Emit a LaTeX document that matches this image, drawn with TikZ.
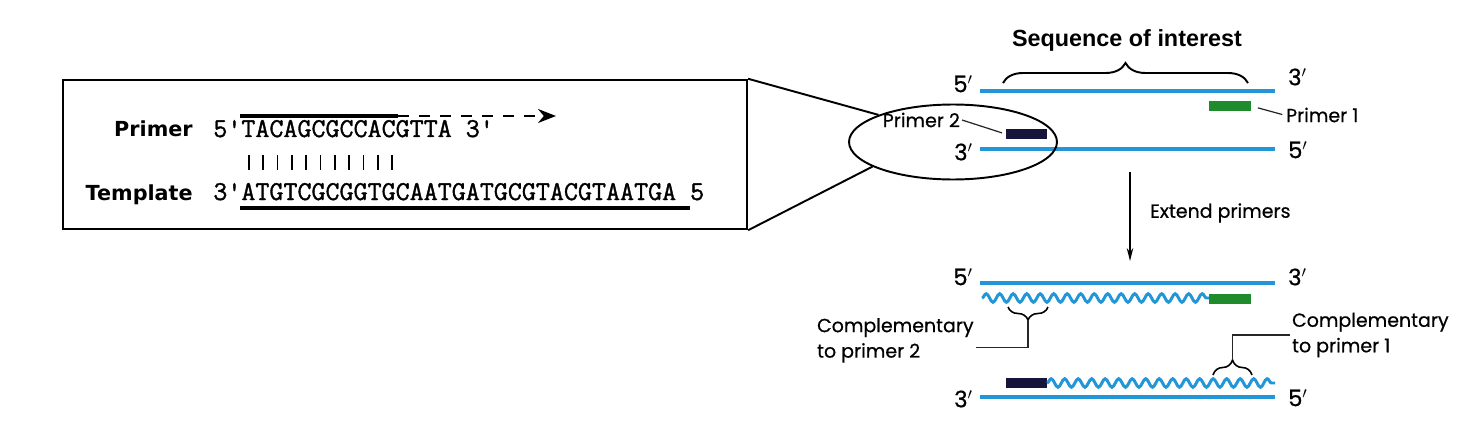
\documentclass[tikz,border=0pt]{standalone}
\usepackage{fontspec}
\setmainfont{Poppins}[FakeBold=0.6]
\newfontfamily\seqfont{Latin Modern Mono}[FakeBold=1.3]
\newfontfamily\tagfont{DejaVu Sans}
\newfontfamily\headfont{Liberation Sans}
\usepackage{tikz}
\usetikzlibrary{%
  arrows.meta,
  shapes.geometric,
  decorations.pathmorphing,
  decorations.pathreplacing
}
\definecolor{dnablue}{RGB}{35,150,215}
\definecolor{primergreen}{RGB}{30,140,45}
\definecolor{primernavy}{RGB}{22,20,58}
\tikzset{
  strand/.style={draw=dnablue, line width=2.8pt},
  newstrand/.style={draw=dnablue, line width=1.7pt, decorate,
                    decoration={snake, segment length=0.27cm, amplitude=0.085cm}},
  primerbar/.style={fill=#1, draw=none, minimum width=0.83cm,
                    minimum height=0.2cm, inner sep=0pt},
  endlbl/.style={font=\fontsize{13}{13}\selectfont, inner sep=1pt},
  note/.style={font=\fontsize{10.8}{14.5}\selectfont, align=left, inner sep=1pt},
  lead/.style={draw=black!85, line width=0.7pt},
  brc/.style={decorate, decoration={brace, amplitude=#1}, line width=0.9pt}
}

\begin{document}
\begin{tikzpicture}[x=0.02cm, y=-0.02cm,
  seq/.style={font=\seqfont\fontsize{15.5}{16}\selectfont, inner sep=0pt},
  tag/.style={font=\tagfont\bfseries\fontsize{11.8}{13}\selectfont, inner sep=0pt}
]
\useasboundingbox (0,0) rectangle (1475,439);

% the inset
\node[draw, line width=1.4pt, minimum width=13.68cm, minimum height=2.98cm,
      inner sep=0pt] (inset) at (405,154.5) {};
\node[tag, anchor=base east] (plbl) at (193,137) {Primer};
\node[tag, anchor=base east] (tlbl) at (193,200) {Template};
\node[seq, anchor=base west] (pseq) at (213,137)
     {5\textquotesingle TACAGCGCCACGTTA 3\textquotesingle};
\node[seq, anchor=base west] (tseq) at (213,200)
     {3\textquotesingle ATGTCGCGGTGCAATGATGCGTACGTAATGA 5};
\draw[line width=2.3pt] (240,116) -- (398,116);
\draw[line width=1.1pt, dash pattern=on 0.22cm off 0.2cm,
      -{Stealth[length=0.36cm, width=0.28cm]}] (398,116) -- (556,116);
\foreach \i in {2,...,12}
  \draw[line width=1pt] ({213+(\i+0.5)*14.34},155) -- ++(0,15);
\draw[line width=2.3pt] (240,208) -- (690,208);

% before extension
\node[font=\headfont\bfseries\fontsize{13.3}{15}\selectfont]
     (soi) at (1127,40) {Sequence of interest};
\draw[brc=0.4cm, line width=1.1pt] (1003,83) -- (1248,83);
\draw[strand] (980,91) -- (1275,91);
\draw[strand] (980,149) -- (1275,149);
\node[endlbl, anchor=east] (t5) at (975,84) {5$'$};
\node[endlbl, anchor=west] (t3) at (1286,77) {3$'$};
\node[endlbl, anchor=east] (b3) at (975,152) {3$'$};
\node[endlbl, anchor=west] (b5) at (1286,150) {5$'$};
\node[primerbar=primergreen] (p1) at (1230,106) {};
\node[primerbar=primernavy] (p2) at (1026.5,134) {};
\node[note, anchor=west] (p1lbl) at (1284,115) {Primer 1};
\node[note, anchor=east] (p2lbl) at (962,120) {Primer 2};
\draw[lead, shorten <=4pt, shorten >=1pt] (p1.east) -- (p1lbl.west);
\draw[lead, shorten >=2pt] (p2lbl.east) -- (p2.west);
\node[draw, ellipse, line width=1.1pt, minimum width=4.16cm,
      minimum height=1.5cm] (lens) at (953,142) {};
\draw[line width=1.1pt] (inset.north east) -- (lens.160);
\draw[line width=1.1pt] (inset.south east) -- (lens.197);

\coordinate (ext top) at (1130,172);
\coordinate (ext end) at (1130,261);
\draw[-{Stealth[length=0.26cm, width=0.13cm]}, line width=0.8pt]
     (ext top) -- (ext end);
\node[note, anchor=west] (extlbl) at (1148,213) {Extend primers};

% after extension
\draw[strand] (980,283) -- (1275,283);
\node[endlbl, anchor=east] (lt5) at (975,277) {5$'$};
\node[endlbl, anchor=west] (lt3) at (1286,277) {3$'$};
\draw[newstrand] (982,298) -- (1209,298);
\node[primerbar=primergreen] (p1b) at (1230,299) {};

\node[primerbar=primernavy] (p2b) at (1026.5,383) {};
\draw[newstrand] (1047,383) -- (1275,383);
\draw[strand] (980,397) -- (1275,397);
\node[endlbl, anchor=east] (lb3) at (975,399) {3$'$};
\node[endlbl, anchor=west] (lb5) at (1286,398) {5$'$};

\draw[brc=0.26cm] (1048,307) -- (1008,307);
\coordinate (c2tip) at (1028,320);
\node[note, anchor=north west] (c2lbl) at (815,316) {Complementary\\to primer 2};
\draw[lead] (c2tip) |- ([yshift=-0.15cm]c2lbl.east);

\draw[brc=0.3cm] (1213,375) -- (1252,375);
\coordinate (c1tip) at (1232.5,360);
\node[note, anchor=west] (c1lbl) at (1290,335) {Complementary\\to primer 1};
\draw[lead] (c1tip) |- (c1lbl.west);
\end{tikzpicture}
\end{document}
